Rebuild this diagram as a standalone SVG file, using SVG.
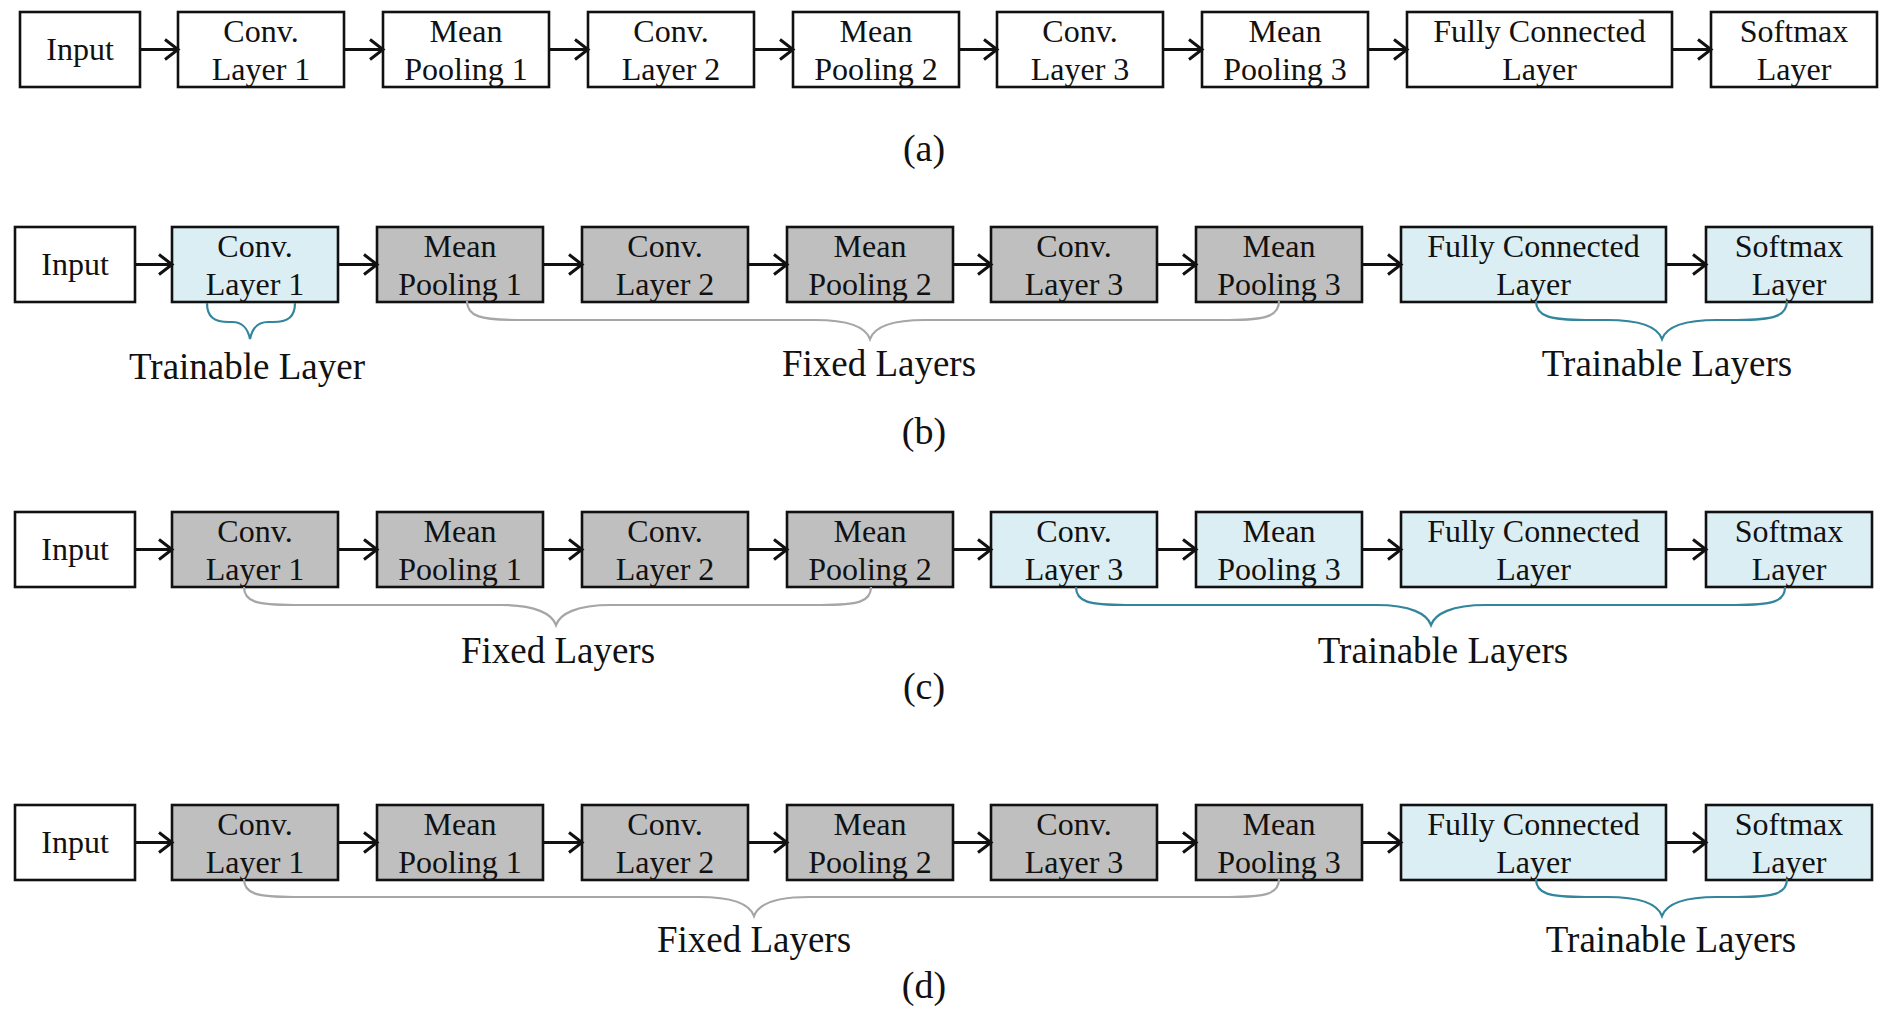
<svg xmlns="http://www.w3.org/2000/svg" width="1889" height="1018" viewBox="0 0 1889 1018">
<style>
.box{stroke:#111;stroke-width:2.6}
.w{fill:#fff}.b{fill:#dbeef4}.g{fill:#bfbfbf}
text{font-family:"Liberation Serif","Times New Roman",serif;fill:#111}
.t{font-size:32px;text-anchor:middle}
.bl{font-size:37px;text-anchor:middle}
.lb{font-size:38px;text-anchor:middle}
.arr{stroke:#111;stroke-width:3;fill:none}
.bt{stroke:#31859c;stroke-width:2.2;fill:none}
.bg{stroke:#a6a6a6;stroke-width:2.2;fill:none}
</style>
<defs>
<marker id="ah" markerUnits="userSpaceOnUse" markerWidth="18" markerHeight="26" refX="15" refY="12" orient="auto">
<path d="M2,2 L15,12 L2,22" fill="none" stroke="#111" stroke-width="3"/>
</marker>
</defs>

<!-- Row (a) -->
<g id="a-input"><rect class="box w" x="20" y="12" width="120" height="75"/><text class="t" x="80" y="60">Input</text></g>
<g id="a-conv1"><rect class="box w" x="178" y="12" width="166" height="75"/><text class="t" x="261" y="42">Conv.</text><text class="t" x="261" y="80">Layer 1</text></g>
<g id="a-mp1"><rect class="box w" x="383" y="12" width="166" height="75"/><text class="t" x="466" y="42">Mean</text><text class="t" x="466" y="80">Pooling 1</text></g>
<g id="a-conv2"><rect class="box w" x="588" y="12" width="166" height="75"/><text class="t" x="671" y="42">Conv.</text><text class="t" x="671" y="80">Layer 2</text></g>
<g id="a-mp2"><rect class="box w" x="793" y="12" width="166" height="75"/><text class="t" x="876" y="42">Mean</text><text class="t" x="876" y="80">Pooling 2</text></g>
<g id="a-conv3"><rect class="box w" x="997" y="12" width="166" height="75"/><text class="t" x="1080" y="42">Conv.</text><text class="t" x="1080" y="80">Layer 3</text></g>
<g id="a-mp3"><rect class="box w" x="1202" y="12" width="166" height="75"/><text class="t" x="1285" y="42">Mean</text><text class="t" x="1285" y="80">Pooling 3</text></g>
<g id="a-fc"><rect class="box w" x="1407" y="12" width="265" height="75"/><text class="t" x="1539.5" y="42">Fully Connected</text><text class="t" x="1539.5" y="80">Layer</text></g>
<g id="a-sm"><rect class="box w" x="1711" y="12" width="166" height="75"/><text class="t" x="1794" y="42">Softmax</text><text class="t" x="1794" y="80">Layer</text></g>
<text class="lb" x="924" y="161">(a)</text>

<!-- Row (b) -->
<g id="b-input"><rect class="box w" x="15" y="227" width="120" height="75"/><text class="t" x="75" y="275">Input</text></g>
<g id="b-conv1"><rect class="box b" x="172" y="227" width="166" height="75"/><text class="t" x="255" y="257">Conv.</text><text class="t" x="255" y="295">Layer 1</text></g>
<g id="b-mp1"><rect class="box g" x="377" y="227" width="166" height="75"/><text class="t" x="460" y="257">Mean</text><text class="t" x="460" y="295">Pooling 1</text></g>
<g id="b-conv2"><rect class="box g" x="582" y="227" width="166" height="75"/><text class="t" x="665" y="257">Conv.</text><text class="t" x="665" y="295">Layer 2</text></g>
<g id="b-mp2"><rect class="box g" x="787" y="227" width="166" height="75"/><text class="t" x="870" y="257">Mean</text><text class="t" x="870" y="295">Pooling 2</text></g>
<g id="b-conv3"><rect class="box g" x="991" y="227" width="166" height="75"/><text class="t" x="1074" y="257">Conv.</text><text class="t" x="1074" y="295">Layer 3</text></g>
<g id="b-mp3"><rect class="box g" x="1196" y="227" width="166" height="75"/><text class="t" x="1279" y="257">Mean</text><text class="t" x="1279" y="295">Pooling 3</text></g>
<g id="b-fc"><rect class="box b" x="1401" y="227" width="265" height="75"/><text class="t" x="1533.5" y="257">Fully Connected</text><text class="t" x="1533.5" y="295">Layer</text></g>
<g id="b-sm"><rect class="box b" x="1706" y="227" width="166" height="75"/><text class="t" x="1789" y="257">Softmax</text><text class="t" x="1789" y="295">Layer</text></g>
<text class="bl" x="247" y="379">Trainable Layer</text>
<text class="bl" x="879" y="376">Fixed Layers</text>
<text class="bl" x="1667" y="376">Trainable Layers</text>
<text class="lb" x="924" y="444">(b)</text>

<!-- Row (c) -->
<g id="c-input"><rect class="box w" x="15" y="512" width="120" height="75"/><text class="t" x="75" y="560">Input</text></g>
<g id="c-conv1"><rect class="box g" x="172" y="512" width="166" height="75"/><text class="t" x="255" y="542">Conv.</text><text class="t" x="255" y="580">Layer 1</text></g>
<g id="c-mp1"><rect class="box g" x="377" y="512" width="166" height="75"/><text class="t" x="460" y="542">Mean</text><text class="t" x="460" y="580">Pooling 1</text></g>
<g id="c-conv2"><rect class="box g" x="582" y="512" width="166" height="75"/><text class="t" x="665" y="542">Conv.</text><text class="t" x="665" y="580">Layer 2</text></g>
<g id="c-mp2"><rect class="box g" x="787" y="512" width="166" height="75"/><text class="t" x="870" y="542">Mean</text><text class="t" x="870" y="580">Pooling 2</text></g>
<g id="c-conv3"><rect class="box b" x="991" y="512" width="166" height="75"/><text class="t" x="1074" y="542">Conv.</text><text class="t" x="1074" y="580">Layer 3</text></g>
<g id="c-mp3"><rect class="box b" x="1196" y="512" width="166" height="75"/><text class="t" x="1279" y="542">Mean</text><text class="t" x="1279" y="580">Pooling 3</text></g>
<g id="c-fc"><rect class="box b" x="1401" y="512" width="265" height="75"/><text class="t" x="1533.5" y="542">Fully Connected</text><text class="t" x="1533.5" y="580">Layer</text></g>
<g id="c-sm"><rect class="box b" x="1706" y="512" width="166" height="75"/><text class="t" x="1789" y="542">Softmax</text><text class="t" x="1789" y="580">Layer</text></g>
<text class="bl" x="558" y="663">Fixed Layers</text>
<text class="bl" x="1443" y="663">Trainable Layers</text>
<text class="lb" x="924" y="699">(c)</text>

<!-- Row (d) -->
<g id="d-input"><rect class="box w" x="15" y="805" width="120" height="75"/><text class="t" x="75" y="853">Input</text></g>
<g id="d-conv1"><rect class="box g" x="172" y="805" width="166" height="75"/><text class="t" x="255" y="835">Conv.</text><text class="t" x="255" y="873">Layer 1</text></g>
<g id="d-mp1"><rect class="box g" x="377" y="805" width="166" height="75"/><text class="t" x="460" y="835">Mean</text><text class="t" x="460" y="873">Pooling 1</text></g>
<g id="d-conv2"><rect class="box g" x="582" y="805" width="166" height="75"/><text class="t" x="665" y="835">Conv.</text><text class="t" x="665" y="873">Layer 2</text></g>
<g id="d-mp2"><rect class="box g" x="787" y="805" width="166" height="75"/><text class="t" x="870" y="835">Mean</text><text class="t" x="870" y="873">Pooling 2</text></g>
<g id="d-conv3"><rect class="box g" x="991" y="805" width="166" height="75"/><text class="t" x="1074" y="835">Conv.</text><text class="t" x="1074" y="873">Layer 3</text></g>
<g id="d-mp3"><rect class="box g" x="1196" y="805" width="166" height="75"/><text class="t" x="1279" y="835">Mean</text><text class="t" x="1279" y="873">Pooling 3</text></g>
<g id="d-fc"><rect class="box b" x="1401" y="805" width="265" height="75"/><text class="t" x="1533.5" y="835">Fully Connected</text><text class="t" x="1533.5" y="873">Layer</text></g>
<g id="d-sm"><rect class="box b" x="1706" y="805" width="166" height="75"/><text class="t" x="1789" y="835">Softmax</text><text class="t" x="1789" y="873">Layer</text></g>
<text class="bl" x="754" y="952">Fixed Layers</text>
<text class="bl" x="1671" y="952">Trainable Layers</text>
<text class="lb" x="924" y="998">(d)</text>

<!-- Connectors -->
<g id="connectors" class="arr" marker-end="url(#ah)">
<path d="M140,49.5H178"/><path d="M344,49.5H383"/><path d="M549,49.5H588"/><path d="M754,49.5H793"/><path d="M959,49.5H997"/><path d="M1163,49.5H1202"/><path d="M1368,49.5H1407"/><path d="M1672,49.5H1711"/>
<path d="M135,264.5H172"/><path d="M338,264.5H377"/><path d="M543,264.5H582"/><path d="M748,264.5H787"/><path d="M953,264.5H991"/><path d="M1157,264.5H1196"/><path d="M1362,264.5H1401"/><path d="M1666,264.5H1706"/>
<path d="M135,549.5H172"/><path d="M338,549.5H377"/><path d="M543,549.5H582"/><path d="M748,549.5H787"/><path d="M953,549.5H991"/><path d="M1157,549.5H1196"/><path d="M1362,549.5H1401"/><path d="M1666,549.5H1706"/>
<path d="M135,842.5H172"/><path d="M338,842.5H377"/><path d="M543,842.5H582"/><path d="M748,842.5H787"/><path d="M953,842.5H991"/><path d="M1157,842.5H1196"/><path d="M1362,842.5H1401"/><path d="M1666,842.5H1706"/>
</g>

<!-- Braces -->
<g id="braces">
<path class="bt" d="M207,303 C207,317 214,322 229,322 L232,322 C244,322 248,330 250,339 C252,330 256,322 268,322 L273,322 C288,322 295,317 295,303"/>
<path class="bg" d="M467,301 C467,316 480,320 517,320 L815,320 C850,320 866,328 870,339 C874,328 890,320 925,320 L1229,320 C1266,320 1279,316 1279,301"/>
<path class="bt" d="M1536,301 C1536,316 1549,320 1586,320 L1607,320 C1642,320 1658,328 1662,339 C1666,328 1682,320 1717,320 L1737,320 C1774,320 1787,316 1787,301"/>
<path class="bg" d="M244,587 C244,602 257,605 294,605 L501,605 C536,605 552,614 556,625 C560,614 576,605 611,605 L821,605 C858,605 871,602 871,587"/>
<path class="bt" d="M1076,587 C1076,602 1089,605 1126,605 L1376,605 C1411,605 1427,614 1431,625 C1435,614 1451,605 1486,605 L1735,605 C1772,605 1785,602 1785,587"/>
<path class="bg" d="M244,879 C244,894 257,897 294,897 L699,897 C734,897 750,905 754,916 C758,905 774,897 809,897 L1229,897 C1266,897 1279,894 1279,879"/>
<path class="bt" d="M1536,879 C1536,894 1549,897 1586,897 L1607,897 C1642,897 1658,905 1662,916 C1666,905 1682,897 1717,897 L1737,897 C1774,897 1787,894 1787,879"/>
</g>
</svg>
